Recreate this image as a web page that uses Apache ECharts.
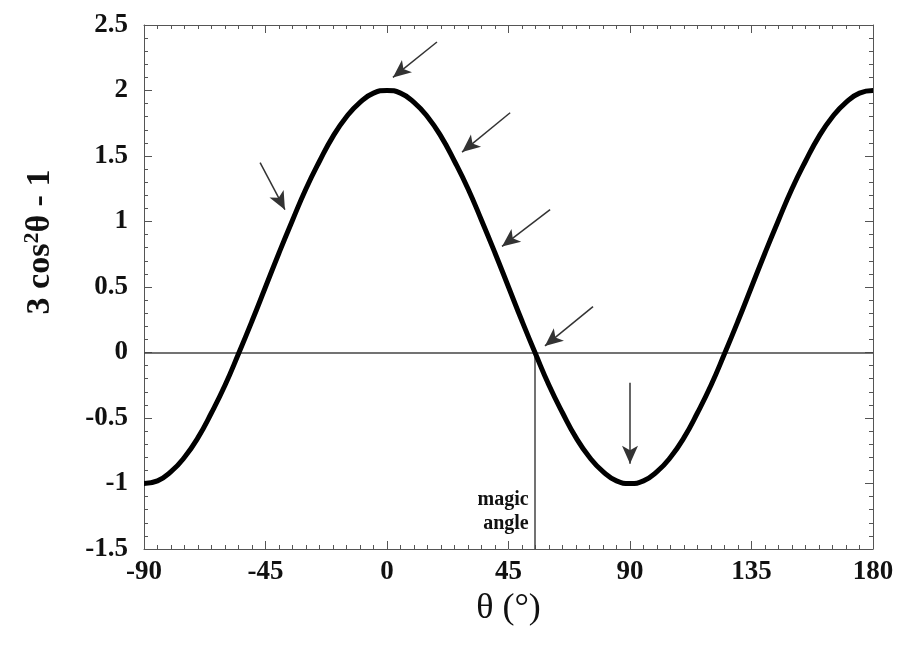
<!DOCTYPE html>
<html>
<head>
<meta charset="utf-8">
<script src="https://cdn.jsdelivr.net/npm/echarts@6/dist/echarts.min.js"></script>
<style>
  html, body { margin: 0; padding: 0; background: #fff; }
  #chart { width: 909px; height: 646px; }
</style>
</head>
<body>
<div id="chart"></div>
<script>
// angle (deg) and 3cos^2(theta)-1
var angles = [-90,-85,-80,-75,-70,-65,-60,-55,-50,-45,-40,-35,-30,-25,-20,-15,-10,-5,
  0,5,10,15,20,25,30,35,40,45,50,55,60,65,70,75,80,85,
  90,95,100,105,110,115,120,125,130,135,140,145,150,155,160,165,170,175,180];
var values = [-1,-0.98,-0.91,-0.80,-0.65,-0.46,-0.25,-0.01,0.24,0.5,0.76,1.01,1.25,1.46,1.65,1.80,1.91,1.98,
  2,1.98,1.91,1.80,1.65,1.46,1.25,1.01,0.76,0.5,0.24,-0.01,-0.25,-0.46,-0.65,-0.80,-0.91,-0.98,
  -1,-0.98,-0.91,-0.80,-0.65,-0.46,-0.25,-0.01,0.24,0.5,0.76,1.01,1.25,1.46,1.65,1.80,1.91,1.98,2];

var magicAngle = 54.7;
var magicLabel = 'magic\nangle';

// arrows: [from x, from y, to x, to y] in data units
var arrows = [
  [18.5, 2.37, 2.2, 2.10],
  [45.6, 1.83, 27.8, 1.53],
  [60.4, 1.09, 42.6, 0.81],
  [76.3, 0.35, 58.5, 0.05],
  [-47.0, 1.45, -37.8, 1.09],
  [90.0, -0.23, 90.0, -0.85]
];

var xName = 'θ (°)';
var serif = '"Liberation Serif", "DejaVu Serif", serif';

var chart = echarts.init(document.getElementById('chart'));

var curve = angles.map(function (a, i) { return [a, values[i]]; });

var arrowLines = arrows.map(function (a) {
  return [{ coord: [a[0], a[1]] }, { coord: [a[2], a[3]] }];
});

function frameAxis(extra) {
  var ax = {
    type: 'value',
    axisLine: { show: true, onZero: false, lineStyle: { color: '#555', width: 1 } },
    axisTick: { show: true, inside: true, length: 8, lineStyle: { color: '#555' } },
    minorTick: { show: true, length: 4, lineStyle: { color: '#555' } },
    splitLine: { show: false }
  };
  return Object.assign(ax, extra);
}

var option = {
  backgroundColor: '#fff',
  animation: false,
  grid: { left: 144, right: 36, top: 25, bottom: 97 },
  xAxis: [
    frameAxis({
      min: -90, max: 180, interval: 45,
      name: xName, nameLocation: 'middle', nameGap: 40,
      nameTextStyle: { fontFamily: serif, fontSize: 36, color: '#111' },
      minorTick: { show: true, splitNumber: 9, length: 4, lineStyle: { color: '#555' } },
      axisLabel: { fontFamily: serif, fontWeight: 'bold', fontSize: 27, color: '#111', margin: 10 }
    }),
    frameAxis({
      min: -90, max: 180, interval: 45, position: 'top',
      minorTick: { show: true, splitNumber: 9, length: 4, lineStyle: { color: '#555' } },
      axisLabel: { show: false }
    })
  ],
  yAxis: [
    frameAxis({
      min: -1.5, max: 2.5, interval: 0.5,
      minorTick: { show: true, splitNumber: 5, length: 4, lineStyle: { color: '#555' } },
      axisLabel: { fontFamily: serif, fontWeight: 'bold', fontSize: 27, color: '#111', margin: 16 }
    }),
    frameAxis({
      min: -1.5, max: 2.5, interval: 0.5, position: 'right',
      minorTick: { show: true, splitNumber: 5, length: 4, lineStyle: { color: '#555' } },
      axisLabel: { show: false }
    })
  ],
  graphic: [{
    type: 'text',
    x: 40, y: 242,
    rotation: Math.PI / 2,
    style: {
      text: '3 cos{sup|2}θ - 1',
      fontFamily: serif, fontWeight: 'bold', fontSize: 34, fill: '#111',
      align: 'center', verticalAlign: 'middle',
      rich: {
        sup: { fontFamily: serif, fontWeight: 'bold', fontSize: 22, fill: '#111', padding: [0, 0, 16, 0] }
      }
    }
  }],
  series: [{
    type: 'line',
    data: curve,
    smooth: 0.5,
    showSymbol: false,
    z: 5,
    lineStyle: { color: '#000', width: 5 },
    markLine: {
      silent: true,
      symbol: ['none', 'none'],
      label: { show: false },
      data: [
        [{ coord: [-90, 0] }, { coord: [180, 0] }],
        [{ coord: [magicAngle, 0] }, { coord: [magicAngle, -1.5] }]
      ],
      lineStyle: { color: '#444', width: 1.5, type: 'solid' }
    },
    markPoint: {
      silent: true,
      symbol: 'circle', symbolSize: 0,
      data: [{ coord: [magicAngle, -1.22] }],
      label: {
        show: true, position: 'left', distance: 6,
        formatter: magicLabel,
        align: 'right',
        fontFamily: serif, fontWeight: 'bold', fontSize: 20, lineHeight: 24, color: '#111'
      }
    }
  }, {
    type: 'line',
    data: [],
    z: 6,
    markLine: {
      silent: true,
      symbol: ['none', 'arrow'],
      symbolSize: [12, 18],
      label: { show: false },
      lineStyle: { color: '#333', width: 1.5, type: 'solid' },
      data: arrowLines
    }
  }]
};

chart.setOption(option);
</script>
</body>
</html>
